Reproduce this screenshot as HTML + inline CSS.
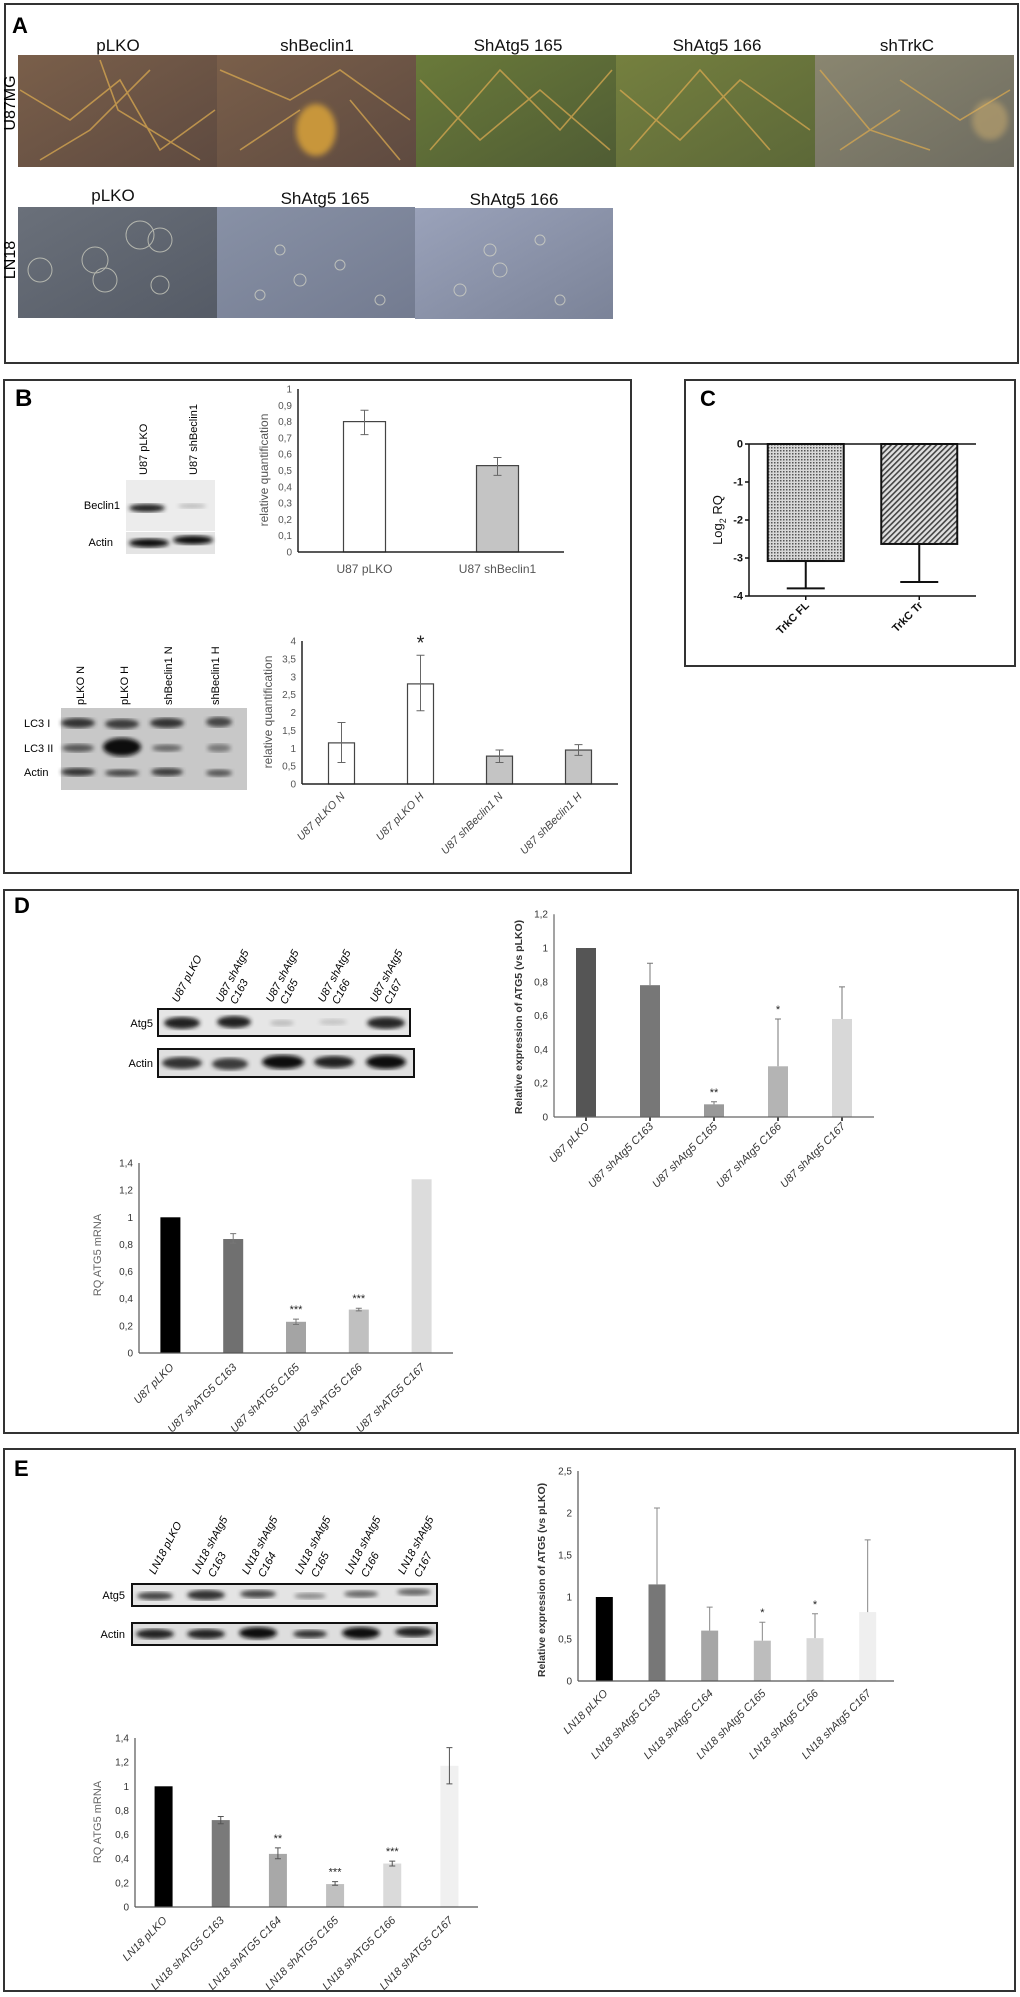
<!DOCTYPE html>
<html><head><meta charset="utf-8">
<style>
html,body{margin:0;padding:0;background:#fff;}
svg{display:block;font-family:"Liberation Sans",Arial,sans-serif;}
.n{font-family:"Liberation Sans Narrow","Liberation Sans",sans-serif;}
</style></head>
<body>
<svg id="fig" xmlns="http://www.w3.org/2000/svg" width="1020" height="1997" viewBox="0 0 1020 1997">
<defs>
<filter id="blur1"><feGaussianBlur stdDeviation="2"/></filter>
<filter id="blur3"><feGaussianBlur stdDeviation="3"/></filter>
<pattern id="hatchFL" width="3" height="3" patternUnits="userSpaceOnUse"><rect width="3" height="3" fill="#d8d8d8"/><rect width="1.5" height="1.5" fill="#555"/></pattern>
<pattern id="hatchTr" width="4" height="4" patternUnits="userSpaceOnUse" patternTransform="rotate(45)"><rect width="4" height="4" fill="#e0e0e0"/><rect width="1.6" height="4" fill="#444"/></pattern>
<linearGradient id="gBrown" x1="0" y1="0" x2="1" y2="1"><stop offset="0" stop-color="#7a5f4a"/><stop offset="1" stop-color="#5e4a40"/></linearGradient>
<linearGradient id="gGreen" x1="0" y1="0" x2="1" y2="1"><stop offset="0" stop-color="#6a7a3a"/><stop offset="1" stop-color="#4f5c34"/></linearGradient>
<linearGradient id="gGreen2" x1="0" y1="0" x2="1" y2="1"><stop offset="0" stop-color="#75803f"/><stop offset="1" stop-color="#5c6838"/></linearGradient>
<linearGradient id="gGray" x1="0" y1="0" x2="1" y2="1"><stop offset="0" stop-color="#8a8670"/><stop offset="1" stop-color="#6e6c60"/></linearGradient>
<linearGradient id="gSlate" x1="0" y1="0" x2="1" y2="1"><stop offset="0" stop-color="#6a707a"/><stop offset="1" stop-color="#555b66"/></linearGradient>
<linearGradient id="gBlue" x1="0" y1="0" x2="1" y2="1"><stop offset="0" stop-color="#8891a6"/><stop offset="1" stop-color="#737b90"/></linearGradient>
<linearGradient id="gBlue2" x1="0" y1="0" x2="1" y2="1"><stop offset="0" stop-color="#9aa2ba"/><stop offset="1" stop-color="#7b8398"/></linearGradient>
</defs>

<!-- Panel A -->
<rect x="5" y="4" width="1013" height="359" fill="none" stroke="#333" stroke-width="2"/>
<text x="12" y="33" font-size="22" font-weight="bold" class="n">A</text>
<g>
<rect x="18" y="55" width="199" height="112" fill="url(#gBrown)"/>
<rect x="217" y="55" width="199" height="112" fill="url(#gBrown)"/>
<ellipse cx="316" cy="130" rx="20" ry="26" fill="#c8963a" filter="url(#blur3)"/>
<rect x="416" y="55" width="200" height="112" fill="url(#gGreen)"/>
<rect x="616" y="55" width="199" height="112" fill="url(#gGreen2)"/>
<rect x="815" y="55" width="199" height="112" fill="url(#gGray)"/>
<g stroke="#d8a850" stroke-width="1.6" fill="none" opacity="0.75">
<path d="M20 90 L70 120 L120 80 L160 150 L215 110 M40 160 L90 130 L150 70 M100 60 L118 110 L200 160"/>
<path d="M220 70 L290 100 L340 70 L410 120 M240 150 L300 110 M350 100 L400 160"/>
<path d="M420 80 L480 140 L540 90 L610 150 M430 150 L500 70 L560 130 L612 70"/>
<path d="M620 90 L680 140 L740 80 L810 130 M630 150 L700 70 L770 150"/>
<path d="M820 70 L870 130 L930 150 M900 80 L960 120 L1010 90 M840 150 L900 110"/>
</g>
<ellipse cx="990" cy="120" rx="18" ry="20" fill="#d0b070" opacity="0.5" filter="url(#blur3)"/>
</g>
<g>
<rect x="18" y="207" width="199" height="111" fill="url(#gSlate)"/>
<rect x="217" y="207" width="198" height="111" fill="url(#gBlue)"/>
<rect x="415" y="208" width="198" height="111" fill="url(#gBlue2)"/>
<g fill="none" stroke="#d8d8c8" stroke-width="1" opacity="0.7">
<circle cx="140" cy="235" r="14"/><circle cx="160" cy="240" r="12"/><circle cx="95" cy="260" r="13"/><circle cx="105" cy="280" r="12"/><circle cx="40" cy="270" r="12"/><circle cx="160" cy="285" r="9"/>
<circle cx="280" cy="250" r="5"/><circle cx="300" cy="280" r="6"/><circle cx="340" cy="265" r="5"/><circle cx="260" cy="295" r="5"/><circle cx="380" cy="300" r="5"/>
<circle cx="490" cy="250" r="6"/><circle cx="500" cy="270" r="7"/><circle cx="460" cy="290" r="6"/><circle cx="540" cy="240" r="5"/><circle cx="560" cy="300" r="5"/>
</g>
</g>
<g class="n" font-size="17" text-anchor="middle" fill="#111">
<text x="118" y="51">pLKO</text>
<text x="317" y="51">shBeclin1</text>
<text x="518" y="51">ShAtg5 165</text>
<text x="717" y="51">ShAtg5 166</text>
<text x="907" y="51">shTrkC</text>
<text x="113" y="201">pLKO</text>
<text x="325" y="204">ShAtg5 165</text>
<text x="514" y="205">ShAtg5 166</text>
</g>
<text transform="translate(15,103) rotate(-90)" font-size="16" text-anchor="middle">U87MG</text>
<text transform="translate(15,260) rotate(-90)" font-size="16" text-anchor="middle">LN18</text>

<!-- Panel B -->
<rect x="4" y="380" width="627" height="493" fill="none" stroke="#333" stroke-width="2"/>
<text x="15" y="406" font-size="24" font-weight="bold">B</text>
<g>
<text transform="translate(147,475) rotate(-90)" font-size="11" class="n">U87 pLKO</text>
<text transform="translate(197,475) rotate(-90)" font-size="11" class="n">U87 shBeclin1</text>
<rect x="126" y="480" width="89" height="51" fill="#ececec"/>
<rect x="126" y="532" width="89" height="22" fill="#e4e4e4"/>
<ellipse cx="147" cy="508" rx="18" ry="4" fill="#222" filter="url(#blur1)"/>
<ellipse cx="192" cy="506" rx="14" ry="2.5" fill="#bbb" filter="url(#blur1)"/>
<ellipse cx="149" cy="543" rx="20" ry="4.5" fill="#111" filter="url(#blur1)"/>
<ellipse cx="193" cy="540" rx="20" ry="4.5" fill="#111" filter="url(#blur1)"/>
<text x="120" y="509" font-size="11" text-anchor="end" class="n">Beclin1</text>
<text x="113" y="546" font-size="11" text-anchor="end" class="n">Actin</text>
</g>
<g>
<text transform="translate(84,705) rotate(-90)" font-size="11" class="n">pLKO N</text>
<text transform="translate(128,705) rotate(-90)" font-size="11" class="n">pLKO H</text>
<text transform="translate(172,705) rotate(-90)" font-size="11" class="n">shBeclin1 N</text>
<text transform="translate(219,705) rotate(-90)" font-size="11" class="n">shBeclin1 H</text>
<rect x="61" y="708" width="186" height="82" fill="#c8c8c8"/>
<ellipse cx="78" cy="723" rx="17" ry="5" fill="#333" filter="url(#blur1)"/>
<ellipse cx="122" cy="724" rx="17" ry="5" fill="#3a3a3a" filter="url(#blur1)"/>
<ellipse cx="167" cy="723" rx="17" ry="5" fill="#333" filter="url(#blur1)"/>
<ellipse cx="219" cy="722" rx="13" ry="5" fill="#444" filter="url(#blur1)"/>
<ellipse cx="78" cy="748" rx="16" ry="4" fill="#555" filter="url(#blur1)"/>
<ellipse cx="122" cy="747" rx="19" ry="9" fill="#0a0a0a" filter="url(#blur1)"/>
<ellipse cx="167" cy="748" rx="15" ry="3.5" fill="#666" filter="url(#blur1)"/>
<ellipse cx="219" cy="748" rx="12" ry="4" fill="#777" filter="url(#blur1)"/>
<ellipse cx="78" cy="772" rx="17" ry="4" fill="#333" filter="url(#blur1)"/>
<ellipse cx="122" cy="773" rx="17" ry="3.5" fill="#444" filter="url(#blur1)"/>
<ellipse cx="167" cy="772" rx="16" ry="4" fill="#3a3a3a" filter="url(#blur1)"/>
<ellipse cx="219" cy="773" rx="13" ry="3.5" fill="#555" filter="url(#blur1)"/>
<text x="24" y="727" font-size="11" class="n">LC3 I</text>
<text x="24" y="752" font-size="11" class="n">LC3 II</text>
<text x="24" y="776" font-size="11" class="n">Actin</text>
</g>

<!-- Panel C -->
<rect x="685" y="380" width="330" height="286" fill="none" stroke="#333" stroke-width="2"/>
<text x="700" y="406" font-size="22" font-weight="bold">C</text>

<!-- Panel D -->
<rect x="4" y="890" width="1014" height="543" fill="none" stroke="#333" stroke-width="2"/>
<text x="14" y="913" font-size="22" font-weight="bold">D</text>
<g>
<rect x="158" y="1009" width="252" height="27" fill="#e6e6e6" stroke="#111" stroke-width="2"/>
<rect x="158" y="1049" width="256" height="28" fill="#e0e0e0" stroke="#111" stroke-width="2"/>
<ellipse cx="182" cy="1023" rx="18" ry="6" fill="#222" filter="url(#blur1)"/>
<ellipse cx="234" cy="1022" rx="17" ry="6" fill="#222" filter="url(#blur1)"/>
<ellipse cx="282" cy="1023" rx="12" ry="3" fill="#bbb" filter="url(#blur1)"/>
<ellipse cx="333" cy="1022" rx="14" ry="3" fill="#c4c4c4" filter="url(#blur1)"/>
<ellipse cx="386" cy="1023" rx="19" ry="6" fill="#252525" filter="url(#blur1)"/>
<ellipse cx="182" cy="1063" rx="20" ry="6" fill="#333" filter="url(#blur1)"/>
<ellipse cx="230" cy="1064" rx="18" ry="6" fill="#3a3a3a" filter="url(#blur1)"/>
<ellipse cx="283" cy="1062" rx="21" ry="7" fill="#111" filter="url(#blur1)"/>
<ellipse cx="334" cy="1062" rx="20" ry="6" fill="#222" filter="url(#blur1)"/>
<ellipse cx="386" cy="1062" rx="20" ry="7" fill="#111" filter="url(#blur1)"/>
<text x="153" y="1027" font-size="11" text-anchor="end" class="n">Atg5</text>
<text x="153" y="1067" font-size="11" text-anchor="end" class="n">Actin</text>
<g font-size="11" font-style="italic" class="n">
<text transform="translate(178,1003) rotate(-62)">U87 pLKO</text>
<text transform="translate(222,1003) rotate(-62)">U87 shAtg5</text><text transform="translate(236,1005) rotate(-62)">C163</text>
<text transform="translate(272,1003) rotate(-62)">U87 shAtg5</text><text transform="translate(286,1005) rotate(-62)">C165</text>
<text transform="translate(324,1003) rotate(-62)">U87 shAtg5</text><text transform="translate(338,1005) rotate(-62)">C166</text>
<text transform="translate(376,1003) rotate(-62)">U87 shAtg5</text><text transform="translate(390,1005) rotate(-62)">C167</text>
</g>
</g>

<!-- Panel E -->
<rect x="4" y="1449" width="1011" height="542" fill="none" stroke="#333" stroke-width="2"/>
<text x="14" y="1476" font-size="22" font-weight="bold">E</text>
<g>
<rect x="132" y="1584" width="305" height="22" fill="#e4e4e4" stroke="#111" stroke-width="2"/>
<rect x="132" y="1623" width="305" height="22" fill="#dedede" stroke="#111" stroke-width="2"/>
<ellipse cx="155" cy="1596" rx="18" ry="4" fill="#444" filter="url(#blur1)"/>
<ellipse cx="206" cy="1595" rx="19" ry="5" fill="#333" filter="url(#blur1)"/>
<ellipse cx="258" cy="1594" rx="18" ry="4" fill="#444" filter="url(#blur1)"/>
<ellipse cx="310" cy="1596" rx="16" ry="3" fill="#888" filter="url(#blur1)"/>
<ellipse cx="361" cy="1594" rx="17" ry="3.5" fill="#666" filter="url(#blur1)"/>
<ellipse cx="414" cy="1592" rx="17" ry="3.5" fill="#666" filter="url(#blur1)"/>
<ellipse cx="155" cy="1634" rx="19" ry="5" fill="#222" filter="url(#blur1)"/>
<ellipse cx="206" cy="1634" rx="19" ry="5" fill="#222" filter="url(#blur1)"/>
<ellipse cx="258" cy="1633" rx="19" ry="6" fill="#111" filter="url(#blur1)"/>
<ellipse cx="310" cy="1634" rx="17" ry="4" fill="#333" filter="url(#blur1)"/>
<ellipse cx="361" cy="1633" rx="19" ry="6" fill="#111" filter="url(#blur1)"/>
<ellipse cx="414" cy="1632" rx="19" ry="5" fill="#222" filter="url(#blur1)"/>
<text x="125" y="1599" font-size="11" text-anchor="end" class="n">Atg5</text>
<text x="125" y="1638" font-size="11" text-anchor="end" class="n">Actin</text>
<g font-size="11" font-style="italic" class="n">
<text transform="translate(155,1575) rotate(-62)">LN18 pLKO</text>
<text transform="translate(198,1575) rotate(-62)">LN18 shAtg5</text><text transform="translate(214,1578) rotate(-62)">C163</text>
<text transform="translate(248,1575) rotate(-62)">LN18 shAtg5</text><text transform="translate(264,1578) rotate(-62)">C164</text>
<text transform="translate(301,1575) rotate(-62)">LN18 shAtg5</text><text transform="translate(317,1578) rotate(-62)">C165</text>
<text transform="translate(351,1575) rotate(-62)">LN18 shAtg5</text><text transform="translate(367,1578) rotate(-62)">C166</text>
<text transform="translate(404,1575) rotate(-62)">LN18 shAtg5</text><text transform="translate(420,1578) rotate(-62)">C167</text>
</g>
</g>
</svg>
<script>
// ---- Panel B top chart data ----
const b1Cats = ['U87 pLKO', 'U87 shBeclin1'];
const b1Vals = [0.80, 0.53];
const b1Lo = [0.72, 0.47];
const b1Hi = [0.87, 0.58];
const b1Ticks = [0, 0.1, 0.2, 0.3, 0.4, 0.5, 0.6, 0.7, 0.8, 0.9, 1];
const b1TickLabels = ['0', '0,1', '0,2', '0,3', '0,4', '0,5', '0,6', '0,7', '0,8', '0,9', '1'];
// ---- Panel B bottom chart data ----
const b2Cats = ['U87 pLKO N', 'U87 pLKO H', 'U87 shBeclin1 N', 'U87 shBeclin1 H'];
const b2Vals = [1.15, 2.8, 0.78, 0.95];
const b2Lo = [0.6, 2.05, 0.6, 0.8];
const b2Hi = [1.72, 3.6, 0.95, 1.1];
const b2Stars = ['', '*', '', ''];
const b2Ticks = [0, 0.5, 1, 1.5, 2, 2.5, 3, 3.5, 4];
const b2TickLabels = ['0', '0,5', '1', '1,5', '2', '2,5', '3', '3,5', '4'];
// ---- Panel C ----
const cCats = ['TrkC FL', 'TrkC Tr'];
const cVals = [-3.08, -2.63];
const cLo = [-3.8, -3.63];
const cHi = [-3.08, -2.63];
const cTicks = [0, -1, -2, -3, -4];
const cTickLabels = ['0', '-1', '-2', '-3', '-4'];
// ---- Panel D protein ----
const dpCats = ['U87 pLKO', 'U87 shAtg5 C163', 'U87 shAtg5 C165', 'U87 shAtg5 C166', 'U87 shAtg5 C167'];
const dpVals = [1.0, 0.78, 0.075, 0.30, 0.58];
const dpHi = [1.0, 0.91, 0.09, 0.58, 0.77];
const dpStars = ['', '', '**', '*', ''];
const dpTicks = [0, 0.2, 0.4, 0.6, 0.8, 1, 1.2];
const dpTickLabels = ['0', '0,2', '0,4', '0,6', '0,8', '1', '1,2'];
// ---- Panel D mRNA ----
const dmCats = ['U87 pLKO', 'U87 shATG5 C163', 'U87 shATG5 C165', 'U87 shATG5 C166', 'U87 shATG5 C167'];
const dmVals = [1.0, 0.84, 0.23, 0.32, 1.28];
const dmLo = [1.0, 0.81, 0.21, 0.31, 1.28];
const dmHi = [1.0, 0.88, 0.25, 0.33, 1.28];
const dmStars = ['', '', '***', '***', ''];
const dmTicks = [0, 0.2, 0.4, 0.6, 0.8, 1, 1.2, 1.4];
const dmTickLabels = ['0', '0,2', '0,4', '0,6', '0,8', '1', '1,2', '1,4'];
// ---- Panel E protein ----
const epCats = ['LN18 pLKO', 'LN18 shAtg5 C163', 'LN18 shAtg5 C164', 'LN18 shAtg5 C165', 'LN18 shAtg5 C166', 'LN18 shAtg5 C167'];
const epVals = [1.0, 1.15, 0.60, 0.48, 0.51, 0.82];
const epHi = [1.0, 2.06, 0.88, 0.70, 0.80, 1.68];
const epStars = ['', '', '', '*', '*', ''];
const epTicks = [0, 0.5, 1, 1.5, 2, 2.5];
const epTickLabels = ['0', '0,5', '1', '1,5', '2', '2,5'];
// ---- Panel E mRNA ----
const emCats = ['LN18 pLKO', 'LN18 shATG5 C163', 'LN18 shATG5 C164', 'LN18 shATG5 C165', 'LN18 shATG5 C166', 'LN18 shATG5 C167'];
const emVals = [1.0, 0.72, 0.44, 0.19, 0.36, 1.17];
const emLo = [1.0, 0.69, 0.40, 0.18, 0.34, 1.02];
const emHi = [1.0, 0.75, 0.49, 0.21, 0.38, 1.32];
const emStars = ['', '', '**', '***', '***', ''];
const emTicks = [0, 0.2, 0.4, 0.6, 0.8, 1, 1.2, 1.4];
const emTickLabels = ['0', '0,2', '0,4', '0,6', '0,8', '1', '1,2', '1,4'];

const NS = 'http://www.w3.org/2000/svg';
const fig = document.getElementById('fig');
function mk(tag, attrs, parent) {
  const e = document.createElementNS(NS, tag);
  for (const k in attrs) e.setAttribute(k, attrs[k]);
  (parent || fig).appendChild(e);
  return e;
}

function chart(o) {
  const g = mk('g', {});
  
  
  const n = o.cats.length;
  const step = (o.xEnd - o.ax) / n;
  const yS = v => o.y0 - (v - o.base) * o.ppu;
  const xC = i => o.ax + (i + 0.5) * step;
  // ticks
  o.ticks.forEach((t, i) => {
    const tl = mk('text', {x: o.ax - 6, y: yS(t) + 3.5, 'font-size': o.tf || 10, 'text-anchor': 'end', fill: o.tc || '#555', 'font-weight': o.bold ? 'bold' : 'normal', class: 'n'}, g);
    
    
    tl.textContent = o.tickLabels[i];
    if (o.tickMarks) {
      const tm = mk('line', {x1: o.ax - 4, x2: o.ax, y1: yS(t), y2: yS(t), stroke: '#111', 'stroke-width': 1.5}, g);
      
      
    }
  });
  // bars
  o.vals.forEach((v, i) => {
    const cx = xC(i);
    const y1 = yS(v), y0 = yS(0);
    const r = mk('rect', {x: cx - o.bw / 2, y: Math.min(y0, y1), width: o.bw, height: Math.abs(y1 - y0), fill: o.colors[i], stroke: o.stroke || 'none', 'stroke-width': o.sw || 1}, g);
    
    
    if (o.hi) {
      const lo = o.lo ? o.lo[i] : v;
      const hi = o.hi[i];
      if (Math.abs(hi - lo) > 0.001) {
        const e = mk('path', {d: 'M' + cx + ' ' + yS(lo) + 'V' + yS(hi) + 'M' + (cx - o.cap) + ' ' + yS(hi) + 'H' + (cx + o.cap) + (o.lo ? 'M' + (cx - o.cap) + ' ' + yS(lo) + 'H' + (cx + o.cap) : ''), stroke: o.ec || '#555', 'stroke-width': o.ew || 1, fill: 'none'}, g);
        
        
      }
    }
    if (o.stars && o.stars[i]) {
      const top = o.hi ? Math.max(o.hi[i], v) : v;
      const s = mk('text', {x: cx, y: yS(top) - (o.starGap || 6), 'font-size': o.sf || 11, 'text-anchor': 'middle', fill: '#222'}, g);
      
      
      s.textContent = o.stars[i];
    }
    // x labels
    const lbl = mk('text', {}, g);
    
    
    lbl.textContent = o.cats[i];
    lbl.setAttribute('font-size', o.lf || 11);
    lbl.setAttribute('fill', o.lc || '#444');
    lbl.setAttribute('class', 'n');
    if (o.rot) {
      lbl.setAttribute('text-anchor', 'end');
      lbl.setAttribute('transform', 'translate(' + (cx + 4) + ',' + o.ly + ') rotate(-45)');
      if (o.italic) lbl.setAttribute('font-style', 'italic');
      if (o.bold) lbl.setAttribute('font-weight', 'bold');
    } else {
      lbl.setAttribute('text-anchor', 'middle');
      lbl.setAttribute('x', cx);
      lbl.setAttribute('y', o.ly);
    }
    if (o.xTick) {
      const xt = mk('line', {x1: cx, x2: cx, y1: o.xAxisY, y2: o.xAxisY + 4, stroke: '#111', 'stroke-width': 1.5}, g);
      
      
    }
  });
  // axes
  const ya = mk('line', {x1: o.ax, x2: o.ax, y1: yS(o.ticks[o.ticks.length - 1]), y2: yS(o.ticks[0]), stroke: o.axc || '#222', 'stroke-width': o.aw || 1.5}, g);
  
  
  const xy = o.xAxisY != null ? o.xAxisY : yS(0);
  const xa = mk('line', {x1: o.ax, x2: o.xEnd, y1: xy, y2: xy, stroke: o.axc || '#222', 'stroke-width': o.aw || 1.5}, g);
  
  
  if (o.zeroLine) {
    const zl = mk('line', {x1: o.ax, x2: o.xEnd, y1: yS(0), y2: yS(0), stroke: '#111', 'stroke-width': 1.5}, g);
    
    
  }
  const t = mk('text', {transform: 'translate(' + o.tx + ',' + o.tyc + ') rotate(-90)', 'font-size': o.ttf || 11, 'text-anchor': 'middle', fill: o.ttc || '#555', 'font-weight': o.ttb ? 'bold' : 'normal'}, g);
  
  
  if (o.titleHTML) {
    const a = mk('tspan', {}, t); a.textContent = 'Log';
    const b = mk('tspan', {dy: 4, 'font-size': 9}, t); b.textContent = '2';
    const c = mk('tspan', {dy: -4}, t); c.textContent = ' RQ';
  } else t.textContent = o.title;
}

chart({name: 'chart-b-beclin1', cats: b1Cats, vals: b1Vals, lo: b1Lo, hi: b1Hi, ticks: b1Ticks, tickLabels: b1TickLabels,
  ax: 298, xEnd: 564, y0: 552, base: 0, ppu: 163, bw: 42, colors: ['#fff', '#c4c4c4'], stroke: '#444', sw: 1.2,
  cap: 4, ec: '#666', ly: 573, lf: 12, lc: '#555', tx: 268, tyc: 470, title: 'relative quantification', ttf: 12, tf: 10});
chart({name: 'chart-b-lc3', cats: b2Cats, vals: b2Vals, lo: b2Lo, hi: b2Hi, stars: b2Stars, sf: 20, starGap: 0, ticks: b2Ticks, tickLabels: b2TickLabels,
  ax: 302, xEnd: 618, y0: 784, base: 0, ppu: 35.75, bw: 26, colors: ['#fff', '#fff', '#c4c4c4', '#c4c4c4'], stroke: '#444', sw: 1.2,
  cap: 4, ec: '#666', rot: true, italic: true, ly: 797, lf: 11, lc: '#444', tx: 272, tyc: 712, title: 'relative quantification', ttf: 12, tf: 10});
chart({name: 'chart-c-trkc', cats: cCats, vals: cVals, lo: cLo, hi: cHi, ticks: cTicks, tickLabels: cTickLabels,
  ax: 749, xEnd: 976, y0: 444, base: 0, ppu: 38, bw: 76, colors: ['url(#hatchFL)', 'url(#hatchTr)'], stroke: '#111', sw: 2,
  cap: 19, ec: '#111', ew: 2, rot: true, bold: true, ly: 606, lf: 11, lc: '#111', tickMarks: true, xTick: true, xAxisY: 596, zeroLine: true,
  axc: '#111', aw: 1.5, tc: '#111', tf: 11, tx: 722, tyc: 520, titleHTML: true, ttc: '#111', ttf: 13});
chart({name: 'chart-d-atg5-protein', cats: dpCats, vals: dpVals, hi: dpHi, stars: dpStars, ticks: dpTicks, tickLabels: dpTickLabels,
  ax: 554, xEnd: 874, y0: 1117, base: 0, ppu: 169, bw: 20, colors: ['#555', '#777', '#999', '#b4b4b4', '#d8d8d8'],
  cap: 3, ec: '#777', rot: true, italic: true, ly: 1127, lf: 11, lc: '#333', xTick: true, xAxisY: 1117, axc: '#666', aw: 1.2, tc: '#333',
  tx: 522, tyc: 1017, title: 'Relative expression of ATG5  (vs pLKO)', ttf: 10.5, ttc: '#333', ttb: true, tf: 10});
chart({name: 'chart-d-atg5-mrna', cats: dmCats, vals: dmVals, lo: dmLo, hi: dmHi, stars: dmStars, ticks: dmTicks, tickLabels: dmTickLabels,
  ax: 139, xEnd: 453, y0: 1353, base: 0, ppu: 135.7, bw: 20, colors: ['#000', '#707070', '#a4a4a4', '#c0c0c0', '#dcdcdc'],
  cap: 3, ec: '#777', rot: true, italic: true, ly: 1368, lf: 11, lc: '#333', axc: '#555', aw: 1.2, tc: '#333',
  tx: 101, tyc: 1255, title: 'RQ  ATG5 mRNA', ttf: 11, ttc: '#666', tf: 10});
chart({name: 'chart-e-atg5-protein', cats: epCats, vals: epVals, hi: epHi, stars: epStars, ticks: epTicks, tickLabels: epTickLabels,
  ax: 578, xEnd: 894, y0: 1681, base: 0, ppu: 84, bw: 17, colors: ['#000', '#777', '#a6a6a6', '#bdbdbd', '#d8d8d8', '#efefef'],
  cap: 3, ec: '#888', rot: true, italic: true, ly: 1694, lf: 11, lc: '#333', axc: '#555', aw: 1.2, tc: '#333',
  tx: 545, tyc: 1580, title: 'Relative expression of ATG5  (vs pLKO)', ttf: 10.5, ttc: '#333', ttb: true, tf: 10});
chart({name: 'chart-e-atg5-mrna', cats: emCats, vals: emVals, lo: emLo, hi: emHi, stars: emStars, ticks: emTicks, tickLabels: emTickLabels,
  ax: 135, xEnd: 478, y0: 1907, base: 0, ppu: 120.7, bw: 18, colors: ['#000', '#7a7a7a', '#a8a8a8', '#c0c0c0', '#dadada', '#f0f0f0'],
  cap: 3, ec: '#555', rot: true, italic: true, ly: 1921, lf: 11, lc: '#333', axc: '#555', aw: 1.2, tc: '#333',
  tx: 101, tyc: 1822, title: 'RQ  ATG5 mRNA', ttf: 11, ttc: '#666', tf: 10});
</script>
</body></html>
